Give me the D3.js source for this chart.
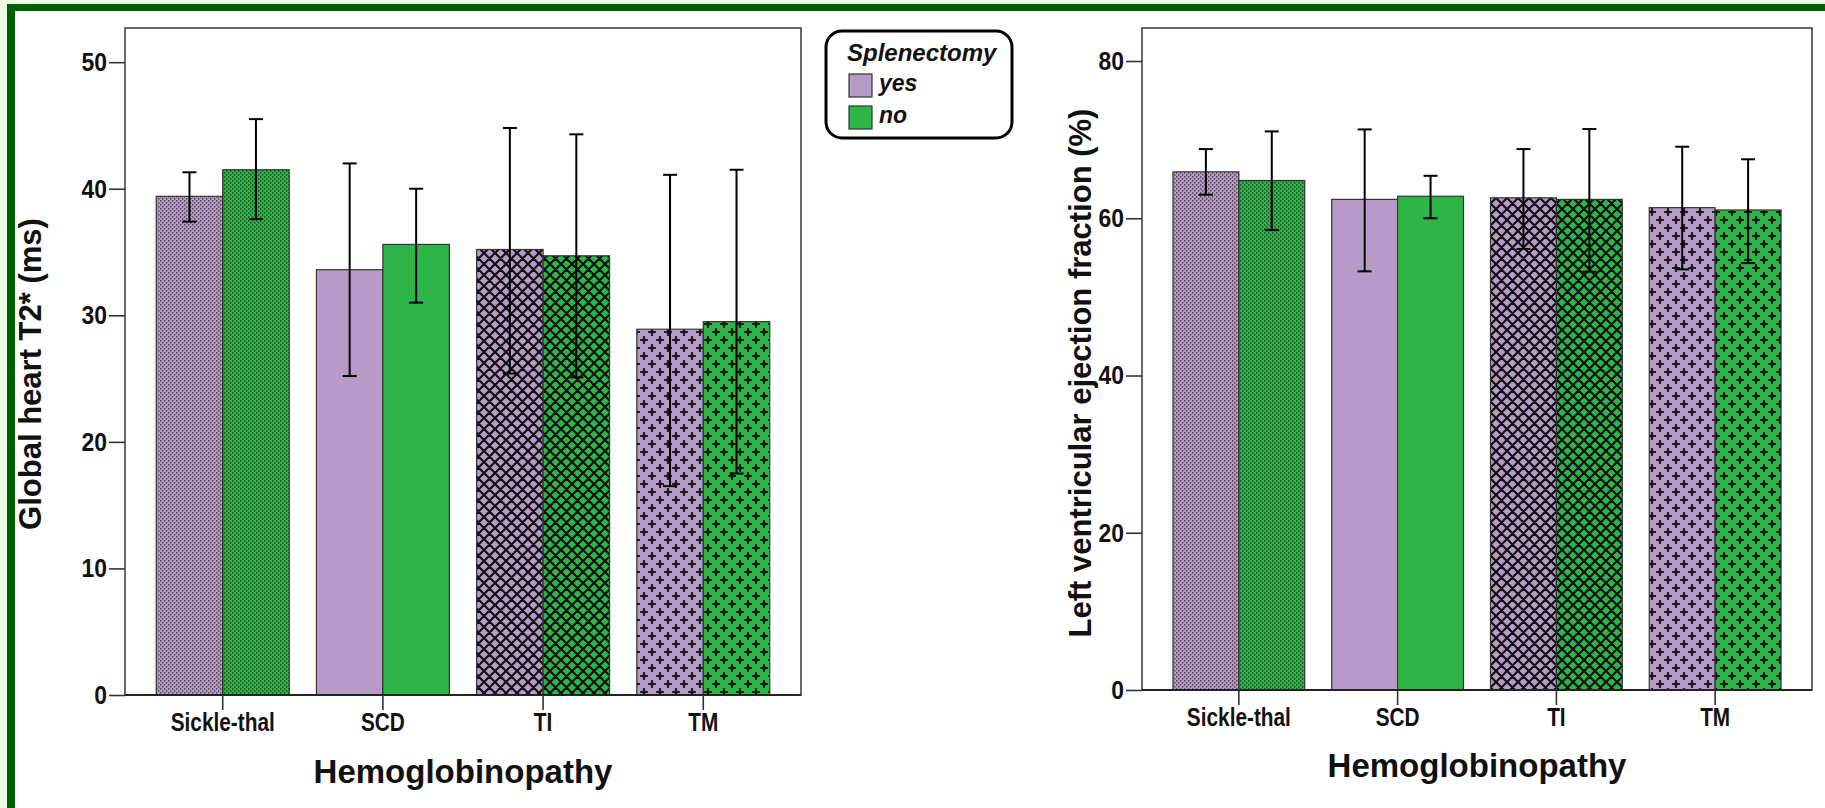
<!DOCTYPE html>
<html>
<head>
<meta charset="utf-8">
<script src="https://cdn.jsdelivr.net/npm/d3@7"></script>
<style>
  body { margin: 0; background: #fff; }
  svg { display: block; font-family: "Liberation Sans", Arial, sans-serif; }
</style>
</head>
<body>
<svg id="chart" width="1825" height="808"></svg>
<script>
// categories and groups
const categories = ["Sickle-thal", "SCD", "TI", "TM"];
const groups = ["yes", "no"];
const patternNames = ["dots", "solid", "diamond", "plus"];

// Global heart T2* (ms)
const t2Yes = [39.4, 33.6, 35.2, 28.9];
const t2No = [41.5, 35.6, 34.7, 29.5];
const t2YesLow = [37.4, 25.2, 25.4, 16.5];
const t2YesHigh = [41.3, 42.0, 44.8, 41.1];
const t2NoLow = [37.6, 31.0, 25.1, 17.5];
const t2NoHigh = [45.5, 40.0, 44.3, 41.5];
const t2Ticks = [0, 10, 20, 30, 40, 50];

// Left ventricular ejection fraction (%)
const lvefYes = [65.9, 62.4, 62.6, 61.35];
const lvefNo = [64.8, 62.8, 62.4, 61.05];
const lvefYesLow = [63.0, 53.25, 56.1, 53.5];
const lvefYesHigh = [68.8, 71.3, 68.8, 69.1];
const lvefNoLow = [58.5, 60.0, 53.2, 54.3];
const lvefNoHigh = [71.05, 65.4, 71.35, 67.5];
const lvefTicks = [0, 20, 40, 60, 80];

const colors = { yes: "#b89ac9", no: "#2db547" };

const svg = d3.select("#chart");

// page background + dark green frame
svg.append("rect").attr("width", 1825).attr("height", 808).attr("fill", "#eefae2");
svg.append("rect").attr("x", 14).attr("y", 11).attr("width", 1811).attr("height", 797).attr("fill", "#fff");
svg.append("rect").attr("x", 7).attr("y", 4).attr("width", 1818).attr("height", 7).attr("fill", "#006000");
svg.append("rect").attr("x", 7).attr("y", 4).attr("width", 8).attr("height", 804).attr("fill", "#006000");

// patterns
const defs = svg.append("defs");
groups.forEach(g => {
  const c = colors[g];

  let p = defs.append("pattern").attr("id", "dots-" + g)
    .attr("patternUnits", "userSpaceOnUse").attr("width", 4).attr("height", 4);
  p.append("rect").attr("width", 4).attr("height", 4).attr("fill", c);
  p.append("rect").attr("x", 0).attr("y", 0).attr("width", 1.4).attr("height", 1.7).attr("fill", "rgba(20,20,20,0.6)");
  p.append("rect").attr("x", 2).attr("y", 2).attr("width", 1.4).attr("height", 1.7).attr("fill", "rgba(20,20,20,0.6)");

  p = defs.append("pattern").attr("id", "solid-" + g)
    .attr("patternUnits", "userSpaceOnUse").attr("width", 4).attr("height", 4);
  p.append("rect").attr("width", 4).attr("height", 4).attr("fill", c);

  p = defs.append("pattern").attr("id", "diamond-" + g)
    .attr("patternUnits", "userSpaceOnUse").attr("width", 11).attr("height", 11);
  p.append("rect").attr("width", 11).attr("height", 11).attr("fill", c);
  p.append("path").attr("d", "M0,0L11,11M11,0L0,11M-1,10L1,12M10,-1L12,1M-1,1L1,-1M10,12L12,10")
    .attr("stroke", "#111").attr("stroke-width", 2.2).attr("fill", "none");

  p = defs.append("pattern").attr("id", "plus-" + g)
    .attr("patternUnits", "userSpaceOnUse").attr("width", 16).attr("height", 16);
  p.append("rect").attr("width", 16).attr("height", 16).attr("fill", c);
  p.append("path").attr("d", "M4,0V8M0,4H8M12,8V16M8,12H16")
    .attr("stroke", "rgba(15,15,15,0.85)").attr("stroke-width", 2.2).attr("fill", "none");
  p.append("rect").attr("x", 2.5).attr("y", 2.5).attr("width", 3).attr("height", 3).attr("fill", "rgba(15,15,15,0.85)");
  p.append("rect").attr("x", 10.5).attr("y", 10.5).attr("width", 3).attr("height", 3).attr("fill", "rgba(15,15,15,0.85)");
});

function drawChart(opt) {
  const x = d3.scaleBand().domain(categories)
    .range([opt.left, opt.right]).paddingInner(0.17).paddingOuter(0.195);
  const xs = d3.scaleBand().domain(groups).range([0, x.bandwidth()]);
  const y = d3.scaleLinear().domain([0, opt.yMax]).range([opt.bottom, opt.top]);

  const g = svg.append("g");

  // frame
  g.append("rect")
    .attr("x", opt.left).attr("y", opt.top)
    .attr("width", opt.right - opt.left).attr("height", opt.bottom - opt.top)
    .attr("fill", "#fff").attr("stroke", "#444").attr("stroke-width", 1.6);

  const rows = [];
  categories.forEach((c, i) => {
    rows.push({ cat: c, i: i, grp: "yes", v: opt.yes[i], lo: opt.yesLow[i], hi: opt.yesHigh[i] });
    rows.push({ cat: c, i: i, grp: "no", v: opt.no[i], lo: opt.noLow[i], hi: opt.noHigh[i] });
  });

  g.selectAll(".bar").data(rows).enter().append("rect")
    .attr("class", "bar")
    .attr("x", d => x(d.cat) + xs(d.grp))
    .attr("y", d => y(d.v))
    .attr("width", xs.bandwidth())
    .attr("height", d => y(0) - y(d.v))
    .attr("fill", d => "url(#" + patternNames[d.i] + "-" + d.grp + ")")
    .attr("stroke", "#333").attr("stroke-width", 1.2);

  // error bars
  const cap = 7;
  const cx = d => x(d.cat) + xs(d.grp) + xs.bandwidth() / 2;
  const eb = g.selectAll(".err").data(rows).enter().append("g").attr("class", "err")
    .attr("stroke", "#000").attr("stroke-width", 2);
  eb.append("line")
    .attr("x1", cx).attr("x2", cx)
    .attr("y1", d => y(d.lo)).attr("y2", d => y(d.hi));
  eb.append("line")
    .attr("x1", d => cx(d) - cap).attr("x2", d => cx(d) + cap)
    .attr("y1", d => y(d.hi)).attr("y2", d => y(d.hi));
  eb.append("line")
    .attr("x1", d => cx(d) - cap).attr("x2", d => cx(d) + cap)
    .attr("y1", d => y(d.lo)).attr("y2", d => y(d.lo));

  // axes
  const ya = g.append("g").attr("transform", "translate(" + opt.left + ",0)")
    .call(d3.axisLeft(y).tickValues(opt.ticks).tickSize(16).tickPadding(2));
  ya.select(".domain").remove();
  ya.selectAll("line").attr("stroke", "#333").attr("stroke-width", 1.6);
  ya.selectAll("text").attr("font-size", 26).attr("font-weight", "bold").attr("fill", "#111")
    .attr("font-family", "'Liberation Sans', Arial, sans-serif")
    .attr("transform", "translate(-18,0) scale(0.88,1) translate(18,0)");

  const xa = g.append("g").attr("transform", "translate(0," + opt.bottom + ")")
    .call(d3.axisBottom(x).tickSize(15).tickPadding(3));
  xa.select(".domain").attr("d", "M" + opt.left + ",0H" + opt.right).attr("stroke", "#222").attr("stroke-width", 2);
  xa.selectAll("line").attr("stroke", "#333").attr("stroke-width", 1.6);
  xa.selectAll("text").attr("font-size", 26).attr("font-weight", "bold").attr("fill", "#111")
    .attr("font-family", "'Liberation Sans', Arial, sans-serif")
    .attr("transform", "scale(0.8,1)");

  // titles
  g.append("text")
    .attr("transform", "translate(" + opt.yTitleX + "," + opt.yTitleY + ") rotate(-90)")
    .attr("text-anchor", "middle").attr("dominant-baseline", "central")
    .attr("font-size", 31).attr("font-weight", "bold").attr("fill", "#111")
    .text(opt.yTitle);
  g.append("text")
    .attr("x", (opt.left + opt.right) / 2).attr("y", opt.xTitleY)
    .attr("text-anchor", "middle")
    .attr("font-size", 33).attr("font-weight", "bold").attr("fill", "#111")
    .text("Hemoglobinopathy");
}

drawChart({
  left: 125, right: 801, top: 28, bottom: 695, yMax: 52.7,
  yes: t2Yes, no: t2No, yesLow: t2YesLow, yesHigh: t2YesHigh, noLow: t2NoLow, noHigh: t2NoHigh,
  ticks: t2Ticks, yTitle: "Global heart T2* (ms)", yTitleX: 30, yTitleY: 374, xTitleY: 783
});

drawChart({
  left: 1142, right: 1812, top: 28, bottom: 690, yMax: 84.2,
  yes: lvefYes, no: lvefNo, yesLow: lvefYesLow, yesHigh: lvefYesHigh, noLow: lvefNoLow, noHigh: lvefNoHigh,
  ticks: lvefTicks, yTitle: "Left ventricular ejection fraction (%)", yTitleX: 1080, yTitleY: 373, xTitleY: 777
});

// legend
const lg = svg.append("g");
lg.append("rect").attr("x", 826).attr("y", 31).attr("width", 186).attr("height", 107)
  .attr("rx", 16).attr("fill", "#fff").attr("stroke", "#000").attr("stroke-width", 3);
lg.append("text").attr("x", 847).attr("y", 61)
  .attr("font-size", 24).attr("font-weight", "bold").attr("font-style", "italic").attr("fill", "#111")
  .text("Splenectomy");
const legendRows = lg.selectAll(".lr").data(groups).enter().append("g")
  .attr("transform", (d, i) => "translate(849," + (74 + i * 32) + ")");
legendRows.append("rect").attr("width", 23).attr("height", 23)
  .attr("fill", d => colors[d]).attr("stroke", "#333").attr("stroke-width", 1.2);
legendRows.append("text").attr("x", 30).attr("y", 17)
  .attr("font-size", 23).attr("font-weight", "bold").attr("font-style", "italic").attr("fill", "#111")
  .text(d => d);
</script>
</body>
</html>
